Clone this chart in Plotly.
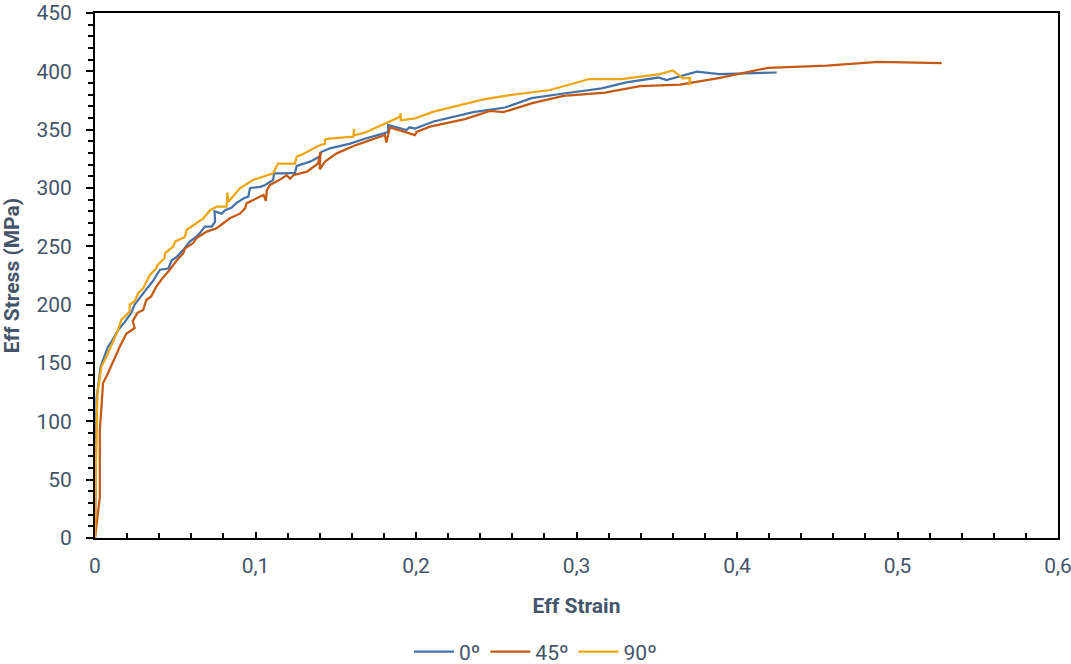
import plotly.graph_objects as go

# 0º series
strain_0 = [0, 0.0003, 0.001, 0.0035, 0.0081, 0.0102, 0.0143, 0.0185, 0.0226, 0.0247, 0.0268, 0.030, 0.033, 0.036,
            0.0405, 0.0457, 0.0478, 0.051, 0.055, 0.059, 0.063, 0.066, 0.0685, 0.0727, 0.0748, 0.0745, 0.079, 0.081,
            0.085, 0.088, 0.0925, 0.0955, 0.0966, 0.103, 0.106, 0.111, 0.1116, 0.117, 0.1246, 0.1257, 0.134, 0.140,
            0.1412, 0.1464, 0.159, 0.169, 0.1827, 0.1827, 0.194, 0.196, 0.1994, 0.211, 0.2357, 0.2555, 0.272, 0.292,
            0.3157, 0.331, 0.351, 0.356, 0.375, 0.389, 0.4247]
stress_0 = [0, 60, 120, 147, 164, 168, 178, 185, 193, 200, 204, 210, 215, 220,
            230, 231, 238, 241, 247, 254, 258, 262.5, 267, 267, 271, 280, 278, 281,
            283, 287, 291, 292.6, 300, 301, 302.6, 307, 312.6, 312.6, 313, 319, 322.6, 327,
            331, 334, 338, 342.6, 348, 354, 349.7, 352, 351, 357, 365, 369, 377, 381,
            385.4, 390.6, 394.7, 392.6, 399.7, 397.7, 399]

# 45º series
strain_45 = [0, 0.003, 0.003, 0.005, 0.008, 0.0123, 0.0154, 0.0195, 0.0226, 0.0247, 0.0235, 0.0265, 0.030, 0.032,
             0.035, 0.038, 0.042, 0.0465, 0.051, 0.055, 0.056, 0.061, 0.0633, 0.0696, 0.0758, 0.084, 0.0903, 0.0935,
             0.0945, 0.0987, 0.105, 0.1065, 0.107, 0.109, 0.115, 0.1194, 0.1215, 0.1236, 0.132, 0.139, 0.1405, 0.1400,
             0.1433, 0.1506, 0.163, 0.1807, 0.1815, 0.1838, 0.1994, 0.2004, 0.2087, 0.2305, 0.246, 0.2544, 0.273,
             0.292, 0.3178, 0.3396, 0.3645, 0.3894, 0.4195, 0.4559, 0.488, 0.5275]
stress_45 = [0, 35, 92, 132.6, 141, 155, 164, 175, 178, 180, 186, 193, 195.4, 204,
             207, 215, 222.6, 229.7, 238, 244, 248, 252.6, 257, 262.6, 265.5, 274, 278, 282.6,
             287, 290, 294, 289, 298, 302.6, 307, 311, 308, 311, 314, 321, 331, 316,
             322.6, 329.7, 337, 345.4, 339, 352, 345.4, 348, 352.6, 359, 366, 365, 373,
             379, 381.7, 387.4, 388.7, 394.4, 403, 404.8, 408, 407]

# 90º series
strain_90 = [0, 0.0005, 0.0015, 0.004, 0.007, 0.010, 0.0143, 0.0164, 0.0216, 0.0216, 0.0247, 0.027, 0.030, 0.034,
             0.038, 0.039, 0.0434, 0.0436, 0.0488, 0.0498, 0.056, 0.057, 0.0675, 0.0717, 0.0758, 0.082, 0.0825,
             0.083, 0.0903, 0.0987, 0.111, 0.114, 0.1246, 0.1257, 0.1288, 0.139, 0.1433, 0.1433, 0.1475, 0.161,
             0.1615, 0.161, 0.168, 0.1838, 0.19, 0.1905, 0.1905, 0.1994, 0.211, 0.242, 0.2586, 0.2835, 0.308,
             0.328, 0.352, 0.360, 0.3665, 0.3707, 0.3703]
stress_90 = [0, 60, 124, 147, 155, 164, 178, 187, 194, 200, 203, 210, 214, 225,
             231, 234, 240, 244, 250, 254, 258, 264, 274, 281, 284, 284, 296,
             288, 299.7, 307, 312.6, 321, 321, 327, 328.6, 336, 338, 341.6, 342.6, 344,
             350.6, 345, 347.4, 357, 361, 364, 358, 359.7, 365.5, 376, 379.7, 384, 393.4,
             393.4, 397.7, 400.7, 394, 394.4, 388]

x_ticks = [0, 0.1, 0.2, 0.3, 0.4, 0.5, 0.6]
x_ticktext = ["0", "0,1", "0,2", "0,3", "0,4", "0,5", "0,6"]
y_ticks = [0, 50, 100, 150, 200, 250, 300, 350, 400, 450]

FONT = "Roboto, sans-serif"
TXT = "#44546A"

fig = go.Figure()
fig.add_trace(go.Scatter(x=strain_0, y=stress_0, mode="lines", name="0º",
                         line=dict(color="#4472A8", width=2.25)))
fig.add_trace(go.Scatter(x=strain_45, y=stress_45, mode="lines", name="45º",
                         line=dict(color="#C65911", width=2.25)))
fig.add_trace(go.Scatter(x=strain_90, y=stress_90, mode="lines", name="90º",
                         line=dict(color="#EDA512", width=2.25)))

fig.update_layout(
    width=1071, height=664,
    margin=dict(l=95, r=13, t=13, b=126, autoexpand=False),
    paper_bgcolor="white", plot_bgcolor="white",
    font=dict(family=FONT, size=21, color=TXT),
    showlegend=True,
    legend=dict(orientation="h", xref="container", yref="container", x=0.5, y=0.018,
                xanchor="center", yanchor="middle", font=dict(size=21, color=TXT),
                itemwidth=40),
)
fig.update_xaxes(
    range=[0, 0.6], tickvals=x_ticks, ticktext=x_ticktext,
    showgrid=False, zeroline=False, automargin=False, ticklabeloverflow="allow",
    showline=True, linecolor="black", linewidth=2, mirror=True,
    ticks="inside", ticklen=6, tickwidth=2, tickcolor="black",
    minor=dict(dtick=0.02, ticks="inside", ticklen=5, tickwidth=1.5, tickcolor="black"),
    ticklabelstandoff=8,
    title=dict(text="<b>Eff Strain</b>", font=dict(size=21, color=TXT), standoff=21),
)
fig.update_yaxes(
    range=[0, 450], tickvals=y_ticks,
    showgrid=False, zeroline=False, automargin=False, ticklabeloverflow="allow",
    showline=True, linecolor="black", linewidth=2, mirror=True,
    ticks="outside", ticklen=7, tickwidth=2, tickcolor="black",
    minor=dict(dtick=10, ticks="outside", ticklen=5, tickwidth=1.5, tickcolor="black"),
    ticklabelstandoff=10,
    title=dict(text="<b>Eff Stress (MPa)</b>", font=dict(size=21, color=TXT), standoff=14),
)

fig.write_html("out.html")
